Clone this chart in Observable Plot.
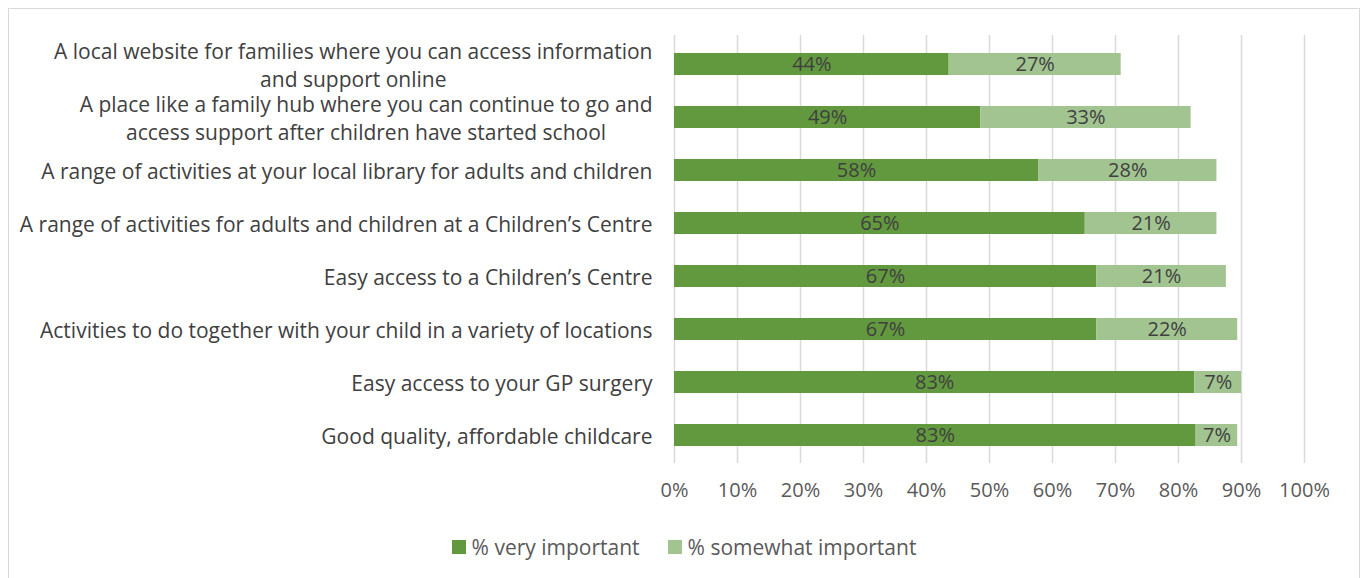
<!DOCTYPE html>
<html><head><meta charset="utf-8">
<script src="https://cdn.jsdelivr.net/npm/d3@7"></script>
<script src="https://cdn.jsdelivr.net/npm/@observablehq/plot@0.6"></script>
<style>
body{margin:0;background:#fff;font-family:"Open Sans",sans-serif;}
#wrap{position:relative;width:1368px;height:578px;overflow:hidden;}
#frame{position:absolute;left:8px;top:8px;width:1350px;height:620px;border:1px solid #d9d9d9;}
#chart{position:absolute;left:0;top:0;}
#legend{position:absolute;left:0;top:533px;width:1368px;display:flex;justify-content:center;gap:28px;font-size:21px;color:#595959;}
#legend .item{display:flex;align-items:center;gap:6px;}
#legend .sw{width:14px;height:14px;display:inline-block;}
</style></head>
<body>
<div id="wrap"><div id="frame"></div><div id="chart"></div><div id="legend"></div></div>
<script>
const categories = [
  "A local website for families where you can access information\nand support online",
  "A place like a family hub where you can continue to go and\naccess support after children have started school",
  "A range of activities at your local library for adults and children",
  "A range of activities for adults and children at a Children\u2019s Centre",
  "Easy access to a Children\u2019s Centre",
  "Activities to do together with your child in a variety of locations",
  "Easy access to your GP surgery",
  "Good quality, affordable childcare"
];
const seriesNames = ["% very important", "% somewhat important"];
const seriesColors = ["#62993e", "#a2c491"];
const veryImportant = [43.6, 48.6, 57.8, 65.2, 67.0, 67.0, 82.6, 82.8];
const somewhatImportant = [27.3, 33.4, 28.3, 20.9, 20.6, 22.4, 7.4, 6.6];
const xTicks = [0,10,20,30,40,50,60,70,80,90,100];

const data = [];
categories.forEach((c,i)=>{
  data.push({category:c, series:seriesNames[0], value:veryImportant[i]});
  data.push({category:c, series:seriesNames[1], value:somewhatImportant[i]});
});

const plot = Plot.plot({
  width: 1368,
  height: 510,
  marginLeft: 674,
  marginRight: 64,
  marginTop: 35,
  marginBottom: 47,
  style: {fontFamily: "'Open Sans', sans-serif", fontSize: "20px", background: "transparent"},
  x: {domain: [0,100]},
  y: {domain: categories, paddingInner: 0.59, paddingOuter: 0.295},
  color: {domain: seriesNames, range: seriesColors},
  marks: [
    Plot.gridX(xTicks, {stroke: "#d9d9d9", strokeOpacity: 1, strokeWidth: 1.5}),
    Plot.barX(data, {y: "category", x: "value", fill: "series"}),
    Plot.textX(data, Plot.stackX({y: "category", x: "value", text: d => Math.round(d.value) + "%", fill: "#404040", fontSize: 20})),
    Plot.axisX({ticks: xTicks, tickFormat: d => d + "%", tickSize: 0, tickPadding: 19, label: null, color: "#595959", fontSize: 20}),
    Plot.axisY({tickSize: 0, tickPadding: 22, label: null, color: "#404040", fontSize: 21, lineHeight: 1.33, textAnchor: "end"})
  ]
});
document.getElementById("chart").appendChild(plot);

// center multi-line category labels within their block
plot.querySelectorAll('g[aria-label="y-axis tick label"] text').forEach(t => {
  const spans = t.querySelectorAll("tspan");
  if (spans.length > 1) {
    const bb = t.getBBox();
    const cx = bb.x + bb.width / 2;
    t.setAttribute("text-anchor", "middle");
    spans.forEach(s => s.setAttribute("x", cx));
  }
});

const legend = document.getElementById("legend");
seriesNames.forEach((n,i)=>{
  const it = document.createElement("div"); it.className = "item";
  const sw = document.createElement("span"); sw.className = "sw"; sw.style.background = seriesColors[i];
  const tx = document.createElement("span"); tx.textContent = n;
  it.appendChild(sw); it.appendChild(tx); legend.appendChild(it);
});
</script>
</body></html>
